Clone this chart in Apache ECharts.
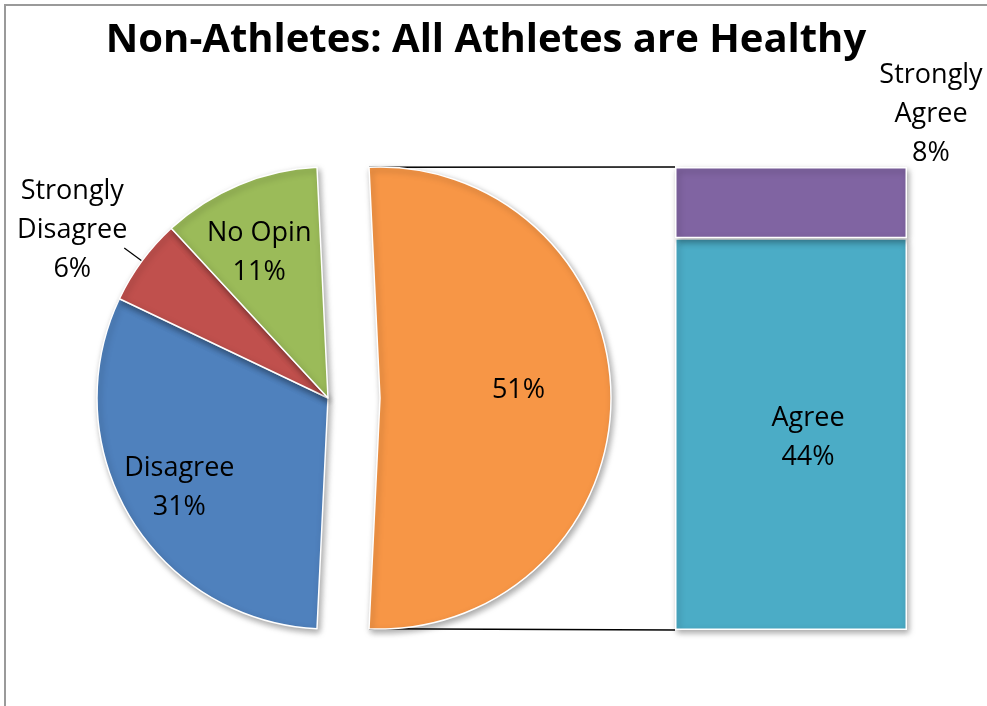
<!DOCTYPE html>
<html>
<head>
<meta charset="utf-8">
<script src="https://cdn.jsdelivr.net/npm/echarts@6/dist/echarts.min.js"></script>
<style>
    html, body { margin: 0; padding: 0; background: #fff; }
    #chart { width: 987px; height: 706px; }
</style>
</head>
<body>
<div id="chart"></div>
<script>
// left pie, clockwise after the split-off slice
const pieNames = ['Disagree', 'Strongly Disagree', 'No Opin']
const pieValues = [31, 6, 11]
const pieColors = ['#4F81BD', '#C0504D', '#9BBB59']

// split-off slice and the bar it opens into
const otherName = 'Other'
const otherValue = 51
const otherColor = '#F79646'
const barNames = ['Agree', 'Strongly Agree']
const barValues = [44, 8]
const barColors = ['#4BACC6', '#8064A2']

const titleText = 'Non-Athletes: All Athletes are Healthy'

const FONT = '"Open Sans", Lato, sans-serif'
const R = 231
const leftCenter = [328, 398]
const rightCenter = [380, 398]
const barBox = { left: 675, top: 167, width: 232, height: 463 }

const total = pieValues.reduce((a, b) => a + b, 0) + otherValue
// the split-off slice sits centred on 3 o'clock
const startAngle = otherValue / total * 180

const hidden = {
    itemStyle: { color: 'rgba(0,0,0,0)', borderWidth: 0, shadowBlur: 0 },
    label: { show: false },
    labelLine: { show: false },
    emphasis: { disabled: true }
}
const sliceStyle = {
    borderColor: '#fff',
    borderWidth: 1.5,
    shadowBlur: 6,
    shadowOffsetX: 2,
    shadowOffsetY: 3,
    shadowColor: 'rgba(0,0,0,0.35)'
}
const labelText = {
    color: '#000',
    fontFamily: FONT,
    fontSize: 27,
    lineHeight: 39
}
// nudges so the labels sit where Excel put them
const leftShift = [null, [-47, 29], [-47, -18], [-23, -36]]

function wrap(name) {
    return name.replace('Strongly ', 'Strongly\n')
}

const leftData = [Object.assign({ name: otherName, value: otherValue }, hidden)]
pieNames.forEach((n, i) => {
    leftData.push({
        name: n,
        value: pieValues[i],
        itemStyle: Object.assign({ color: pieColors[i] }, sliceStyle),
        label: i === 1 ? { position: 'outside' } : { position: 'inside' },
        labelLine: { show: i === 1, length: 22, length2: 0, lineStyle: { color: '#000', width: 1.2 } }
    })
})

const rightData = [{
    name: otherName,
    value: otherValue,
    itemStyle: Object.assign({ color: otherColor }, sliceStyle),
    label: { position: 'inside' }
}]
pieNames.forEach((n, i) => {
    rightData.push(Object.assign({ name: n, value: pieValues[i] }, hidden))
})

const chart = echarts.init(document.getElementById('chart'))

// connector lines from the split slice corners to the bar
const a = startAngle * Math.PI / 180
const cornerX = rightCenter[0] + R * Math.cos(a)
const cornerTop = rightCenter[1] - R * Math.sin(a)
const cornerBottom = rightCenter[1] + R * Math.sin(a)

chart.setOption({
    animation: false,
    title: {
        text: titleText,
        left: 481,
        top: 16,
        textAlign: 'center',
        textStyle: { fontFamily: FONT, fontSize: 40, fontWeight: 'bold', color: '#000' }
    },
    graphic: [
        {
            type: 'rect',
            shape: { x: 5, y: 5, width: 1200, height: 900 },
            style: { fill: 'none', stroke: '#9a9a9a', lineWidth: 2 },
            silent: true, z: -10
        },
        {
            type: 'line',
            shape: { x1: cornerX, y1: cornerTop, x2: barBox.left, y2: barBox.top },
            style: { stroke: '#000', lineWidth: 1.5 }, z: -1
        },
        {
            type: 'line',
            shape: { x1: cornerX, y1: cornerBottom, x2: barBox.left, y2: barBox.top + barBox.height },
            style: { stroke: '#000', lineWidth: 1.5 }, z: -1
        }
    ],
    grid: {
        left: barBox.left, top: barBox.top,
        width: barBox.width, height: barBox.height
    },
    xAxis: { type: 'category', data: [otherName], show: false },
    yAxis: { type: 'value', min: 0, max: barValues.reduce((s, v) => s + v, 0), show: false },
    series: [
        {
            type: 'pie',
            center: leftCenter,
            radius: R,
            startAngle: startAngle,
            clockwise: true,
            avoidLabelOverlap: false,
            silent: true,
            label: Object.assign({
                show: true,
                formatter: p => wrap(p.name) + '\n' + p.value + '%'
            }, labelText),
            labelLayout: p => {
                const s = leftShift[p.dataIndex]
                if (!s) return {}
                const out = { dx: s[0], dy: s[1] }
                if (p.dataIndex === 2) out.align = 'center'
                return out
            },
            data: leftData
        },
        {
            type: 'pie',
            center: rightCenter,
            radius: R,
            startAngle: startAngle,
            clockwise: true,
            avoidLabelOverlap: false,
            silent: true,
            label: Object.assign({
                show: true,
                formatter: p => p.value + '%'
            }, labelText),
            labelLayout: p => (p.dataIndex === 0 ? { dx: 20, dy: -8 } : {}),
            data: rightData
        },
        {
            type: 'bar',
            name: barNames[0],
            stack: 'other',
            barWidth: '100%',
            data: [barValues[0]],
            itemStyle: Object.assign({ color: barColors[0] }, sliceStyle),
            label: Object.assign({
                show: true,
                position: 'inside',
                offset: [17, 4],
                formatter: p => wrap(p.seriesName) + '\n' + p.value + '%'
            }, labelText)
        },
        {
            type: 'bar',
            name: barNames[1],
            stack: 'other',
            barWidth: '100%',
            data: [barValues[1]],
            itemStyle: Object.assign({ color: barColors[1] }, sliceStyle),
            label: Object.assign({
                show: true,
                position: 'top',
                offset: [140, 11],
                align: 'center',
                formatter: p => wrap(p.seriesName) + '\n' + p.value + '%'
            }, labelText)
        }
    ]
})
</script>
</body>
</html>
